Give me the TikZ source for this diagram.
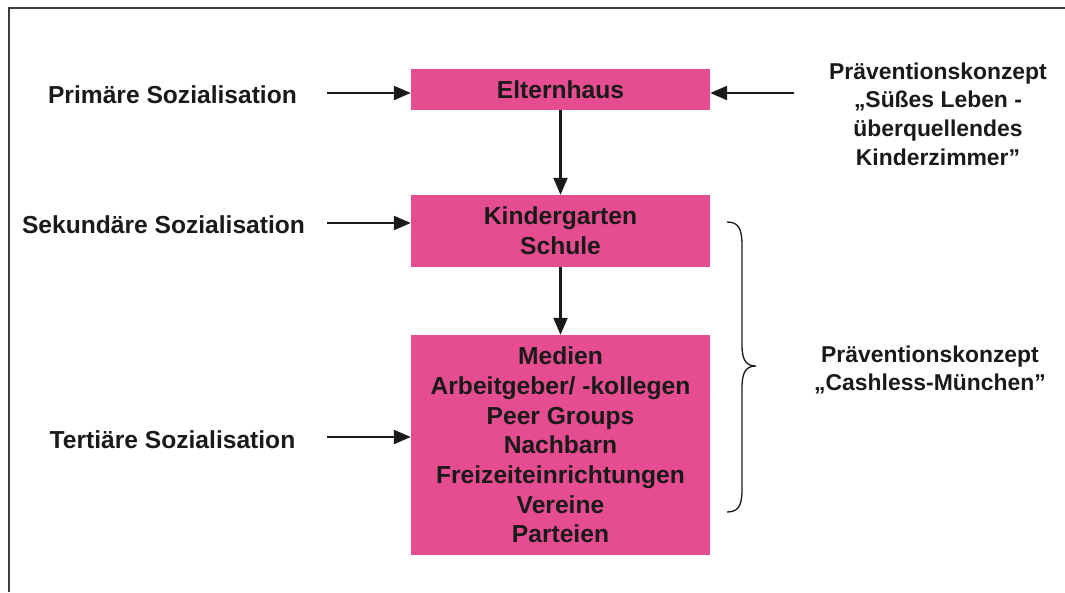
\documentclass[tikz,border=0pt]{standalone}
\usepackage{fontspec}
\setmainfont{Liberation Sans}
\usetikzlibrary{arrows.meta}
\definecolor{pinkbox}{RGB}{230,77,145}
\definecolor{txt}{RGB}{26,26,26}
\definecolor{framec}{RGB}{60,60,60}
\begin{document}
\begin{tikzpicture}[x=1pt,y=-1pt,
  box/.style={fill=pinkbox,draw=none,minimum width=299pt,inner sep=0pt,align=center,text=txt,font=\fontsize{24.6}{29.7}\selectfont\bfseries},
  lbl/.style={align=center,text=txt,inner sep=0pt,font=\fontsize{24.6}{29.7}\selectfont\bfseries},
  rlbl/.style={align=center,text=txt,inner sep=0pt,font=\fontsize{22.9}{28.6}\selectfont\bfseries},
  arr/.style={line width=2.3pt,draw=txt,-{Triangle[length=17pt,width=14pt]}},
  brace/.style={line width=1.3pt,draw=txt}]
\useasboundingbox (0,0) rectangle (1065,592);
\draw[line width=1.6pt,draw=framec] (9,592) -- (9,8) -- (1065,8);

\node[box,minimum height=41pt] (e) at (560.5,89.5) {Elternhaus};
\node[box,minimum height=72pt] (k) at (560.5,231) {Kindergarten\\Schule};
\node[box,minimum height=220pt] (m) at (560.5,445) {Medien\\Arbeitgeber/ -kollegen\\Peer Groups\\Nachbarn\\Freizeiteinrichtungen\\Vereine\\Parteien};

\node[lbl] (p1) at (172.5,95) {Primäre Sozialisation};
\node[lbl] (p2) at (163.5,225) {Sekundäre Sozialisation};
\node[lbl] (p3) at (172.5,440) {Tertiäre Sozialisation};

\node[rlbl] (r1) at (938,114) {Präventionskonzept\\„Süßes Leben -\\überquellendes\\Kinderzimmer”};
\node[rlbl] (r2) at (930,370) {Präventionskonzept\\„Cashless-München”};

\coordinate (a1) at (327,93);
\coordinate (a2) at (327,223);
\coordinate (a3) at (327,437);
\coordinate (a4) at (794,93);

\draw[arr] (a1) -- (a1 -| e.west);
\draw[arr] (a2) -- (a2 -| k.west);
\draw[arr] (a3) -- (a3 -| m.west);
\draw[arr] (a4) -- (a4 -| e.east);
\draw[arr] (e.south) -- (k.north);
\draw[arr] (k.south) -- (m.north);

\draw[brace] (727,222) .. controls (738,222) and (742,228) .. (742,245)
  -- (742,345) .. controls (742,360) and (746,366) .. (756,366)
  .. controls (746,366) and (742,372) .. (742,388)
  -- (742,490) .. controls (742,506) and (738,512) .. (727,512);
\end{tikzpicture}
\end{document}
